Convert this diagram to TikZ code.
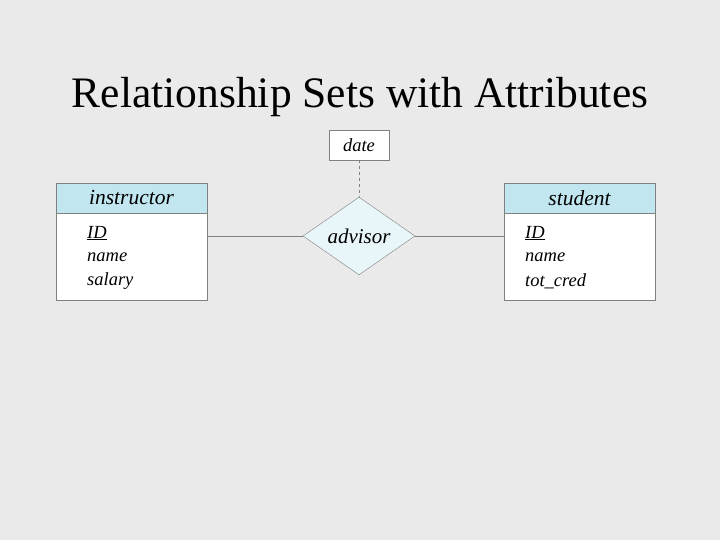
\documentclass[tikz,border=0pt]{standalone}
\usepackage{fontspec}
\setmainfont{Liberation Serif}
\usetikzlibrary{shapes.geometric}
\definecolor{bggray}{HTML}{EAEAEA}
\definecolor{headblue}{HTML}{C2E6F0}
\definecolor{diablue}{HTML}{E8F5F9}
\definecolor{linegray}{HTML}{808080}
\tikzstyle{head}=[draw=linegray, fill=headblue, minimum width=151pt, minimum height=30pt, inner sep=0pt, font=\itshape\fontsize{21.5}{22}\selectfont]
\tikzstyle{body}=[draw=linegray, fill=white, minimum width=151pt, minimum height=87pt, inner sep=0pt]
\tikzstyle{attr}=[anchor=west, inner sep=0pt, font=\itshape\fontsize{18.5}{20}\selectfont]

\begin{document}
\begin{tikzpicture}[x=1pt, y=-1pt]
        \useasboundingbox[fill=bggray] (0,0) rectangle (720,540);
        \node (title) at (360,97) {\fontsize{43.5}{46}\selectfont Relationship Sets with Attributes};

        \node[body](ibody) at (131.5,256.5) {};
        \node[head](ihead) at (131.5,198) {instructor};
        \node[attr](iid) at (87,233) {\underline{ID}};
        \node[attr](iname) at (87,257) {name};
        \node[attr](isal) at (87,281) {salary};

        \node[body](sbody) at (579.5,256.5) {};
        \node[head](shead) at (579.5,198) {student};
        \node[attr](sid) at (525,233) {\underline{ID}};
        \node[attr](sname) at (525,257) {name};
        \node[attr](scred) at (525,281) {tot\_cred};

        \node[diamond, draw=linegray, fill=diablue, minimum width=112pt, minimum height=77pt, inner sep=0pt, font=\itshape\fontsize{21}{22}\selectfont](adv) at (359,236) {advisor};
        \node[draw=linegray, fill=white, minimum width=60pt, minimum height=30pt, inner sep=0pt, font=\itshape\fontsize{18.5}{20}\selectfont](date) at (359,145) {date};

        \begin{scope}[every path/.style={draw=linegray}]
            \draw (ibody.east |- adv) -- (adv.west);
            \draw (adv.east) -- (sbody.west |- adv);
            \draw[dashed] (date) -- (adv.north);
        \end{scope}
    \end{tikzpicture}
\end{document}
